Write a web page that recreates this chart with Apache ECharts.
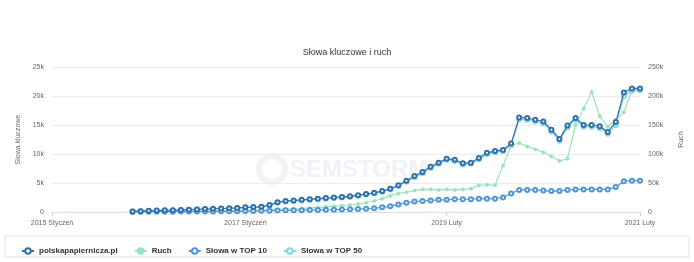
<!DOCTYPE html>
<html>
<head>
<meta charset="utf-8">
<script src="https://cdn.jsdelivr.net/npm/echarts@6/dist/echarts.min.js"></script>
<style>
html,body{margin:0;padding:0;background:#fff;}
#chart{width:694px;height:262px;}
</style>
</head>
<body>
<div id="chart"></div>
<script>
var _$ = function(_id){return document.getElementById(_id)};

// miesiace od 2015-01 do 2021-02
var years = [2015, 2016, 2017, 2018, 2019, 2020, 2021];
var monthNames = ['Styczeń','Luty','Marzec','Kwiecień','Maj','Czerwiec','Lipiec','Sierpień','Wrzesień','Październik','Listopad','Grudzień'];
var shownLabels = ['2015 Styczeń', '2017 Styczeń', '2019 Luty', '2021 Luty'];
var leftTicks = [0, 5000, 10000, 15000, 20000, 25000];
var rightTicks = [0, 50000, 100000, 150000, 200000, 250000];

var seriesNames = ['polskapapiernicza.pl', 'Ruch', 'Słowa w TOP 10', 'Słowa w TOP 50'];
var dataStart = 10; // dane od 2015 Listopad

var keywords = [100,150,200,250,300,300,350,400,450,500,550,600,650,700,800,850,900,1200,1700,1900,2000,2100,2200,2300,2400,2500,2600,2700,2900,3100,3300,3600,4000,4600,5400,6200,6900,7800,8500,9200,9000,8400,8500,9300,10200,10500,10700,11800,16300,16200,15900,15600,14200,12600,14900,16200,15000,15000,14800,13800,15500,20600,21300,21300];
var traffic = [0,0,200,300,500,500,600,800,1000,1000,1200,1500,1800,2000,2500,3000,3500,4000,4500,5000,5500,6000,7000,8000,9000,10000,11000,12000,14000,16000,19000,23000,28000,32000,34000,37000,39000,39000,38000,39000,38000,39000,40000,46000,47000,46000,80000,115000,119000,113000,108000,103000,96000,88000,92000,150000,178000,207000,165000,147000,159000,172000,210000,214000];
var top10 = [20,30,40,50,60,60,70,80,90,100,100,110,120,140,160,180,200,230,260,290,300,320,340,360,380,400,430,470,520,580,650,800,1000,1300,1600,1800,1900,2000,2100,2100,2200,2200,2200,2300,2300,2300,2500,3200,3800,3800,3800,3700,3600,3600,3800,3900,3900,3900,3900,3900,4300,5300,5400,5400];
var top50 = [90,140,190,230,280,290,330,380,420,470,520,560,610,660,750,800,850,1100,1600,1800,1900,2000,2100,2200,2300,2400,2500,2600,2800,3000,3200,3500,3900,4500,5200,6000,6700,7600,8300,9000,8800,8200,8300,9100,10000,10300,10500,11500,16000,15900,15600,15300,13900,12300,14600,15900,14700,14700,14500,13500,15000,20000,20900,21000];

var colors = ['#336fa9', '#9ae3bc', '#5096d6', '#7fd8ec'];

function pad(arr){
	var out = [];
	for(var i = 0; i < dataStart; i++){ out.push(null); }
	return out.concat(arr);
}

function kFormat(v){
	return v === 0 ? '0' : (v / 1000) + 'k';
}

function drawChart(){
	var categories = [];
	for(var y = 0; y < years.length; y++){
		for(var m = 0; m < 12; m++){
			categories.push(years[y] + ' ' + monthNames[m]);
			if(years[y] == 2021 && m == 1) break;
		}
	}
	var myChart = echarts.init(_$('chart'));
	var font = '"Liberation Sans", Arial, sans-serif';
	function lineSeries(idx, data, axis, z, symbol, size){
		return {
			name: seriesNames[idx],
			type: 'line',
			yAxisIndex: axis,
			data: pad(data),
			z: z,
			symbol: symbol,
			symbolSize: size,
			showAllSymbol: true,
			lineStyle: {width: 1.2, color: colors[idx]},
			itemStyle: {color: colors[idx], borderColor: colors[idx], borderWidth: 1},
			emphasis: {disabled: true}
		};
	}
	var option = {
		animation: false,
		color: colors,
		textStyle: {fontFamily: font},
		title: {
			text: 'Słowa kluczowe i ruch',
			left: 'center',
			top: 43,
			textStyle: {fontSize: 9, fontWeight: 'normal', color: '#333'}
		},
		legend: {
			data: seriesNames,
			left: 16,
			top: 242,
			itemWidth: 12,
			itemHeight: 7,
			itemGap: 16,
			textStyle: {fontSize: 8, fontWeight: 'bold', color: '#333'}
		},
		grid: {left: 52, right: 54, top: 67, bottom: 50},
		xAxis: {
			type: 'category',
			boundaryGap: false,
			data: categories,
			axisLine: {lineStyle: {color: '#d8dfee'}},
			axisTick: {
				show: true,
				length: 4,
				lineStyle: {color: '#ccd6eb'},
				interval: function(i, v){ return shownLabels.indexOf(v) >= 0; }
			},
			axisLabel: {
				fontSize: 7,
				color: '#666',
				margin: 8,
				interval: function(i, v){ return shownLabels.indexOf(v) >= 0; }
			},
			splitLine: {show: false}
		},
		yAxis: [
			{
				type: 'value',
				name: 'Słowa kluczowe',
				nameLocation: 'middle',
				nameGap: 26,
				nameTextStyle: {fontSize: 7, color: '#666'},
				min: leftTicks[0],
				max: leftTicks[leftTicks.length - 1],
				interval: leftTicks[1] - leftTicks[0],
				axisLine: {show: false},
				axisTick: {show: false},
				axisLabel: {fontSize: 7, color: '#666', formatter: kFormat},
				splitLine: {lineStyle: {color: '#ebebeb', width: 1}}
			},
			{
				type: 'value',
				name: 'Ruch',
				nameLocation: 'middle',
				nameGap: 38,
				nameRotate: 90,
				nameTextStyle: {fontSize: 7, color: '#666'},
				min: rightTicks[0],
				max: rightTicks[rightTicks.length - 1],
				interval: rightTicks[1] - rightTicks[0],
				axisLine: {show: false},
				axisTick: {show: false},
				axisLabel: {fontSize: 7, color: '#666', formatter: kFormat},
				splitLine: {show: false}
			}
		],
		graphic: [
			{
				type: 'rect',
				shape: {x: 5, y: 236, width: 684, height: 21},
				style: {fill: 'none', stroke: '#e3e3e3', lineWidth: 1},
				silent: true
			},
			{
				type: 'circle',
				shape: {cx: 272, cy: 169, r: 13},
				style: {fill: 'none', stroke: 'rgba(190,205,225,0.25)', lineWidth: 6},
				silent: true, z: -1
			},
			{
				type: 'text',
				left: 290,
				top: 158,
				style: {text: 'SEMSTORM', fill: 'rgba(190,205,225,0.25)', font: 'bold 24px ' + font},
				silent: true, z: -1
			}
		],
		series: [
			lineSeries(3, top50, 0, 2, 'emptyCircle', 4),
			lineSeries(1, traffic, 1, 3, 'circle', 3),
			lineSeries(2, top10, 0, 4, 'emptyCircle', 4),
			lineSeries(0, keywords, 0, 5, 'emptyCircle', 4)
		]
	};
	myChart.setOption(option);
}

window.addEventListener('load', drawChart);
</script>
</body>
</html>
